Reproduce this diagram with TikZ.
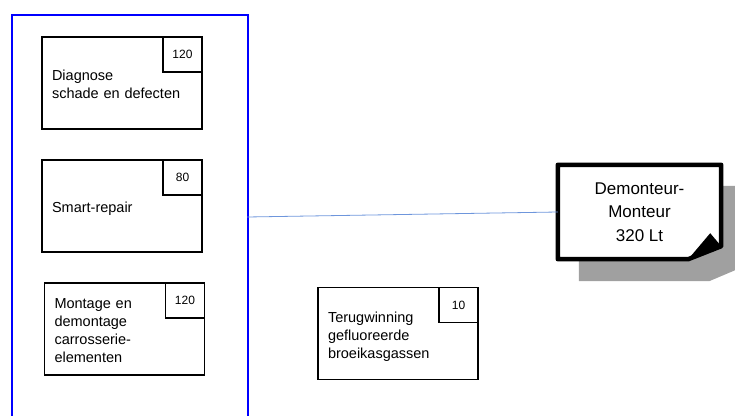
\documentclass[tikz,border=0pt]{standalone}
\usepackage{fontspec}
\setmainfont{Liberation Sans}
\usetikzlibrary{backgrounds}

\definecolor{linkblue}{RGB}{110,150,220}
\definecolor{shadegray}{RGB}{160,160,160}

% tekst iets lager in het vak
\newcommand{\tasklines}[1]{\raisebox{-3pt}[\height][\depth]{\begin{tabular}{@{}l@{}}#1\end{tabular}}}

\tikzset{
  task/.style={draw, line width=1.6pt, minimum width=160pt, minimum height=92pt,
    text width=140pt, inner xsep=10pt, align=left, font=\fontsize{14.5}{18}\selectfont},
  hours/.style={draw, line width=1.6pt, minimum width=39pt, minimum height=35pt,
    anchor=north east, font=\fontsize{12}{14}\selectfont},
  role/.style={align=center, minimum width=163pt, minimum height=94pt,
    font=\fontsize{17}{23.5}\selectfont}
}

\begin{document}
\begin{tikzpicture}[x=1pt, y=-1pt, node distance=123pt]
\useasboundingbox (0,0) rectangle (735,415);

% linker kolom
\node (col) [draw=blue, line width=2.2pt, minimum width=236pt, minimum height=440pt,
  anchor=north west] at (11,14) {};

\node (diag) [task] at (122,83) {\tasklines{Diagnose\\schade en defecten}};
\node (smart) [task, below of=diag] {\tasklines{Smart-repair}};
\node (mont) [task, below of=smart, xshift=2.5pt] {\tasklines{Montage en\\demontage\\carrosserie-\\elementen}};
\node (terug) [task] at (398,333.5) {\tasklines{Terugwinning\\gefluoreerde\\broeikasgassen}};

\node [hours] at (diag.north east) {120};
\node [hours] at (smart.north east) {80};
\node [hours] at (mont.north east) {120};
\node [hours] at (terug.north east) {10};

% beroep
\node (dm) [role] at (639.5,212) {Demonteur-\\Monteur\\320 Lt};
\begin{scope}[on background layer]
  \fill[shadegray] ([xshift=21pt,yshift=-21pt]dm.north west)
    -- ([xshift=21pt,yshift=-21pt]dm.north east)
    -- ([xshift=21pt,yshift=-8pt]dm.south east)
    -- ([xshift=-12pt,yshift=-22pt]dm.south east)
    -- ([xshift=21pt,yshift=-22pt]dm.south west) -- cycle;
  \draw[line width=4.5pt, fill=white, line join=round] (dm.north west) -- (dm.north east)
    -- ([yshift=13pt]dm.south east) -- ([xshift=-33pt]dm.south east)
    -- (dm.south west) -- cycle;
  \fill ([yshift=13pt]dm.south east) -- ([xshift=-11pt,yshift=26pt]dm.south east)
    -- ([xshift=-33pt]dm.south east) -- cycle;
\end{scope}

\coordinate (lnk) at (247,217);
\path[draw=linkblue, line width=0.8pt] (lnk) -- (dm.west);
\end{tikzpicture}
\end{document}
